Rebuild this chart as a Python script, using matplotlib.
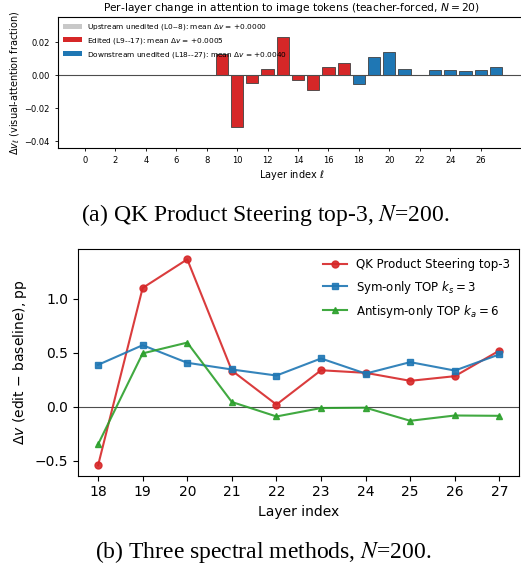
import numpy as np
import matplotlib
matplotlib.use('Agg')
import matplotlib.pyplot as plt

# data: panel (a), per-layer change in visual attention
layers_a = np.arange(28)
delta_v = [0.0, 0.0, 0.0, 0.0, 0.0, 0.0, 0.0, 0.0, 0.0,
           0.0127, -0.0315, -0.0049, 0.0038, 0.0234, -0.0030, -0.0089, 0.0048, 0.0076,
           -0.0055, 0.0110, 0.0139, 0.0036, 0.0002, 0.0034, 0.0033, 0.0028, 0.0030, 0.0050]
group_labels = ['Upstream unedited (L0--8): mean $\\Delta v$ = +0.0000',
                'Edited (L9--17): mean $\\Delta v$ = +0.0005',
                'Downstream unedited (L18--27): mean $\\Delta v$ = +0.0040']
group_ranges = [(0, 9), (9, 18), (18, 28)]
group_colors = ['#c8c8c8', '#d62728', '#1f77b4']

# data: panel (b), three spectral methods
layers_b = np.arange(18, 28)
qk_top3 = [-0.543, 1.10, 1.365, 0.335, 0.02, 0.338, 0.314, 0.24, 0.283, 0.52]
sym_only = [0.388, 0.57, 0.407, 0.345, 0.289, 0.447, 0.307, 0.413, 0.335, 0.485]
antisym_only = [-0.348, 0.494, 0.594, 0.044, -0.09, -0.012, -0.009, -0.13, -0.081, -0.084]

fig = plt.figure(figsize=(5.21, 5.71), dpi=100)

# ---- panel (a)
ax1 = fig.add_axes([0.1113, 0.7408, 0.896, 0.2294])
for (lo, hi), lab, col in zip(group_ranges, group_labels, group_colors):
    ax1.bar(layers_a[lo:hi], delta_v[lo:hi], width=0.8, color=col,
            edgecolor='0.25', linewidth=0.6, label=lab)
ax1.axhline(0, color='0.3', linewidth=0.8)
ax1.set_xlim(-1.77, 28.9)
ax1.set_ylim(-0.0441, 0.0353)
ax1.set_xticks(np.arange(0, 27, 2))
ax1.set_yticks([-0.04, -0.02, 0.0, 0.02])
ax1.tick_params(labelsize=6, length=2.5, width=0.6)
ax1.spines['right'].set_visible(False)
for s in ['left', 'bottom', 'top']:
    ax1.spines[s].set_linewidth(0.8)
ax1.set_xlabel('Layer index $\\ell$', fontsize=7, labelpad=2)
ax1.set_ylabel('$\\Delta v_\\ell$ (visual-attention fraction)', fontsize=7, labelpad=2)
ax1.set_title('Per-layer change in attention to image tokens (teacher-forced, $N = 20$)',
              fontsize=7.7, pad=4)
leg = ax1.legend(loc='upper left', fontsize=5.3, frameon=False, handlelength=2.5,
                 borderaxespad=0.3, labelspacing=0.5)
for h in leg.legend_handles:
    h.set_edgecolor('none')

# ---- panel (b)
ax2 = fig.add_axes([0.1497, 0.1669, 0.8474, 0.397])
ax2.axhline(0, color='0.3', linewidth=0.8)
ax2.plot(layers_b, qk_top3, '-o', color='#d62728', lw=1.5, ms=5, alpha=0.9,
         label='QK Product Steering top-3')
ax2.plot(layers_b, sym_only, '-s', color='#1f77b4', lw=1.5, ms=5, alpha=0.9,
         label='Sym-only TOP $k_s = 3$')
ax2.plot(layers_b, antisym_only, '-^', color='#2ca02c', lw=1.5, ms=5, alpha=0.9,
         label='Antisym-only TOP $k_a = 6$')
ax2.set_xticks(layers_b)
ax2.set_yticks([-0.5, 0.0, 0.5, 1.0])
ax2.tick_params(labelsize=10)
ax2.set_xlabel('Layer index', fontsize=10)
ax2.set_ylabel('$\\Delta v$ (edit $-$ baseline), pp', fontsize=10)
ax2.legend(loc='upper right', fontsize=8.5, frameon=False, labelspacing=0.6,
           borderaxespad=0.4)

# captions
fig.text(0.509, 1 - 215 / 571, '(a) QK Product Steering top-3, $N$=200.',
         ha='center', va='center', fontsize=17, family='Liberation Serif',
         math_fontfamily='stix')
fig.text(0.506, 1 - 552 / 571, '(b) Three spectral methods, $N$=200.',
         ha='center', va='center', fontsize=17, family='Liberation Serif',
         math_fontfamily='stix')

fig.savefig('out.png', dpi=100)
